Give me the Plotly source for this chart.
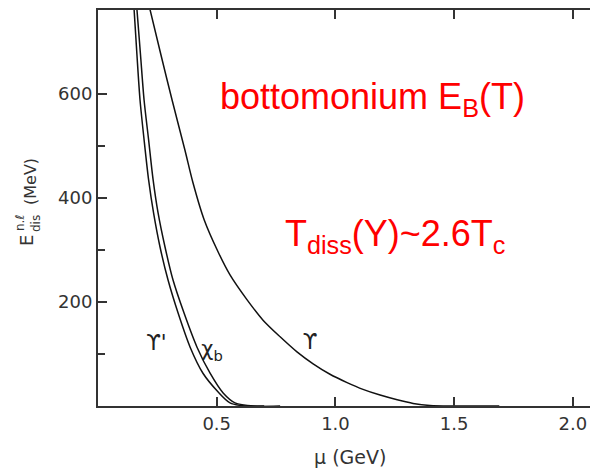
import plotly.graph_objects as go

# Upsilon (1S): dissociation energy (MeV) vs screening mass mu (GeV)
ups_mu = [0.219, 0.265, 0.312, 0.366, 0.400, 0.447, 0.505, 0.556, 0.628, 0.695, 0.767, 0.838, 0.906, 0.977,
          1.049, 1.116, 1.188, 1.260, 1.327, 1.398, 1.50, 1.69]
ups_E = [762, 675, 588, 492, 429, 358, 297, 252, 204, 165, 133, 104, 81, 61,
         45, 32, 21, 12, 5, 1, 0, 0]

# Upsilon' (2S)
ups2_mu = [0.152, 0.164, 0.177, 0.194, 0.213, 0.234, 0.261, 0.295, 0.337, 0.388, 0.442, 0.506, 0.556, 0.62, 0.767]
ups2_E = [762, 675, 588, 512, 435, 371, 306, 242, 179, 113, 63, 27, 6, 0, 0]

# chi_b
chib_mu = [0.164, 0.179, 0.194, 0.213, 0.232, 0.253, 0.282, 0.316, 0.362, 0.417, 0.472, 0.527, 0.577, 0.661, 0.700]
chib_E = [762, 675, 588, 512, 435, 371, 306, 242, 179, 113, 63, 25, 6, 0, 0]

# curve labels
lab_text = ["ϒ'", "χ<sub>b</sub>", "ϒ"]
lab_mu = [0.246, 0.48, 0.893]
lab_E = [117, 106, 119]

x_ticks = [0.5, 1.0, 1.5, 2.0]
x_ticktext = ["0.5", "1.0", "1.5", "2.0"]
y_ticks = [200, 400, 600]
y_minor = [100, 300, 500]

fig = go.Figure()
for mu, E in [(ups_mu, ups_E), (ups2_mu, ups2_E), (chib_mu, chib_E)]:
    fig.add_trace(go.Scatter(x=mu, y=E, mode="lines",
                             line=dict(color="#111", width=1.5, shape="spline", smoothing=0.8),
                             showlegend=False, hoverinfo="skip"))

fig.add_trace(go.Scatter(x=lab_mu, y=lab_E, mode="text", text=lab_text,
                         textfont=dict(family="DejaVu Sans", size=21, color="#222"),
                         showlegend=False, hoverinfo="skip"))

axfont = dict(family="DejaVu Sans", size=18, color="#333")
fig.update_layout(
    width=590, height=468,
    margin=dict(l=98, r=0, t=10, b=62),
    paper_bgcolor="white", plot_bgcolor="white",
    xaxis=dict(range=[0, 2.072], tickvals=x_ticks, ticktext=x_ticktext, ticks="inside", ticklen=9,
               tickwidth=1.5, tickcolor="#333", showline=True, linewidth=2, linecolor="#333",
               mirror="ticks", showgrid=False, zeroline=False, tickfont=axfont),
    yaxis=dict(range=[0, 761], tickvals=y_ticks, ticks="inside", ticklen=9, tickwidth=1.5,
               tickcolor="#333", showline=True, linewidth=2, linecolor="#333", showgrid=False,
               zeroline=False, tickfont=axfont,
               minor=dict(tickvals=y_minor, ticks="inside", ticklen=7, tickcolor="#333", tickwidth=1.5)),
)

def px_x(px):
    return (px - 98) / 492

def px_y(py):
    return (406 - py) / 396

# x-axis title
fig.add_annotation(xref="paper", yref="paper", x=px_x(350), y=px_y(457), xanchor="center", yanchor="middle",
                   showarrow=False, text="μ (GeV)", font=dict(family="DejaVu Sans", size=19, color="#333"))

# y-axis title with stacked super/subscript
ytitle = [("E", 18, 27, 241), ("dis", 12, 36, 224), ("n.ℓ", 12, 20, 223), ("(MeV)", 16, 30, 182)]
for txt, sz, cx, cy in ytitle:
    fig.add_annotation(xref="paper", yref="paper", x=px_x(cx), y=px_y(cy), xanchor="center", yanchor="middle",
                       textangle=-90, showarrow=False, text=txt,
                       font=dict(family="DejaVu Sans", size=sz, color="#333"))

red = dict(family="Liberation Sans, Arial", size=36, color="#ff0000")
fig.add_annotation(xref="paper", yref="paper", x=px_x(218), y=px_y(99),
                   xanchor="left", yanchor="middle", showarrow=False,
                   text="bottomonium E<sub>B</sub>(T)", font=red)
fig.add_annotation(xref="paper", yref="paper", x=px_x(283), y=px_y(236),
                   xanchor="left", yanchor="middle", showarrow=False,
                   text="T<sub>diss</sub>(Y)~2.6T<sub>c</sub>", font=red)

fig.write_html("out.html")
